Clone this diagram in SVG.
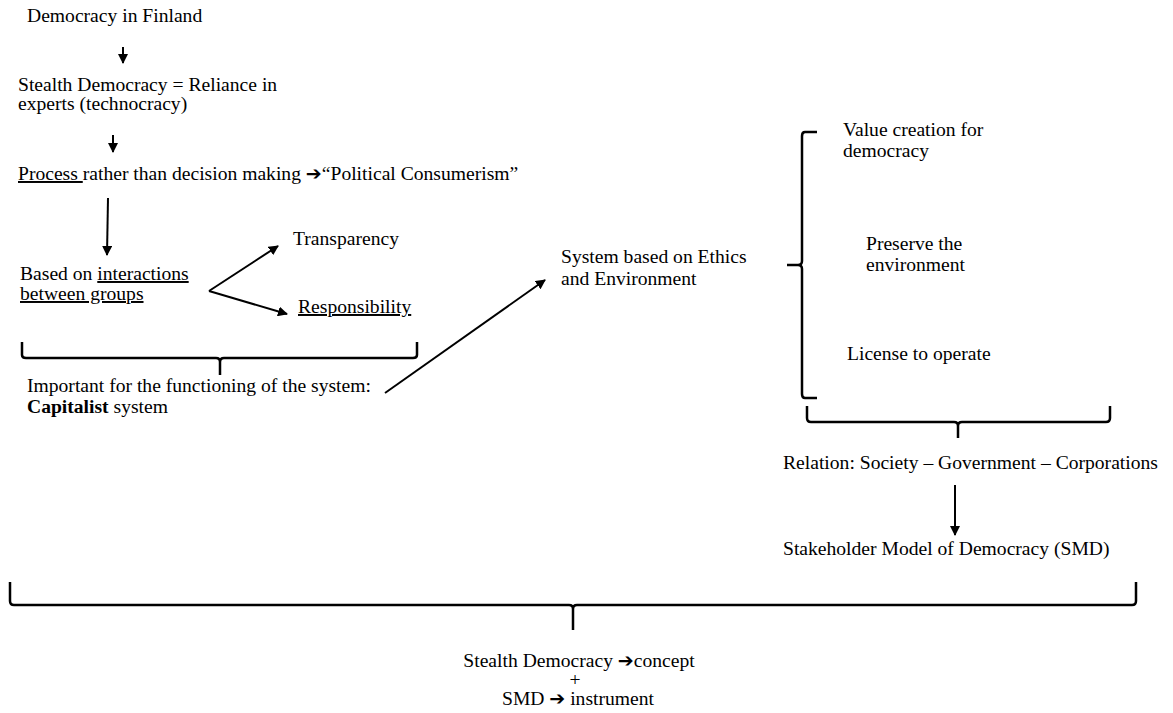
<svg xmlns="http://www.w3.org/2000/svg" width="1173" height="713" viewBox="0 0 1173 713" font-family="'Liberation Serif', 'Times New Roman', serif">
<style>
text{font-family:'Liberation Serif','Times New Roman',serif;font-size:19.6px;fill:#000}
.u{text-decoration:underline}
.ar{font-family:'DejaVu Sans',sans-serif;font-weight:bold;font-size:19px}
.ln{stroke:#000;stroke-width:2;fill:none}
.br{stroke:#000;stroke-width:2.5;fill:none;stroke-linejoin:round}
</style>
<defs>
<marker id="ah" viewBox="0 0 10 10" refX="9" refY="5" markerWidth="5" markerHeight="5" orient="auto" markerUnits="strokeWidth">
<path d="M0,0 L10,5 L0,10 Z" fill="#000"/>
</marker>
</defs>
<rect width="1173" height="713" fill="#fff"/>
<g id="n-finland"><text x="27" y="22">Democracy in Finland</text></g>
<g id="n-stealth"><text x="18" y="91">Stealth Democracy = Reliance in</text><text x="18" y="110">experts (technocracy)</text></g>
<g id="n-process"><text x="18" y="180"><tspan class="u">Process </tspan>rather than decision making <tspan class="ar">➔</tspan>“Political Consumerism”</text></g>
<g id="n-based"><text x="20" y="280">Based on <tspan class="u">interactions</tspan></text><text x="20" y="300" class="u">between groups</text></g>
<g id="n-transparency"><text x="293" y="245">Transparency</text></g>
<g id="n-responsibility"><text x="298" y="313" class="u">Responsibility</text></g>
<g id="n-important"><text x="27" y="392">Important for the functioning of the system:</text><text x="27" y="413"><tspan font-weight="bold">Capitalist</tspan> system</text></g>
<g id="n-system"><text x="561" y="263">System based on Ethics</text><text x="561" y="285">and Environment</text></g>
<g id="n-value"><text x="843" y="136">Value creation for</text><text x="843" y="157">democracy</text></g>
<g id="n-preserve"><text x="866" y="250">Preserve the</text><text x="866" y="271">environment</text></g>
<g id="n-license"><text x="847" y="360">License to operate</text></g>
<g id="n-relation"><text x="783" y="469">Relation: Society – Government – Corporations</text></g>
<g id="n-smd"><text x="783" y="555">Stakeholder Model of Democracy (SMD)</text></g>
<g id="n-final" text-anchor="middle"><text x="579" y="667">Stealth Democracy <tspan class="ar">➔</tspan>concept</text><text x="575" y="686">+</text><text x="578" y="705">SMD <tspan class="ar">➔</tspan> instrument</text></g>
<g id="connectors">
<line class="ln" x1="123" y1="47" x2="123" y2="63" marker-end="url(#ah)"/>
<line class="ln" x1="113" y1="135" x2="113" y2="152" marker-end="url(#ah)"/>
<line class="ln" x1="108" y1="198" x2="107" y2="255" marker-end="url(#ah)"/>
<line class="ln" x1="209" y1="291" x2="278" y2="246" marker-end="url(#ah)"/>
<line class="ln" x1="209" y1="291" x2="287" y2="314" marker-end="url(#ah)"/>
<line class="ln" x1="385" y1="393" x2="545" y2="280" marker-end="url(#ah)"/>
<line class="ln" x1="955" y1="485" x2="955" y2="535" marker-end="url(#ah)"/>
<path class="br" d="M22,342 L22,355 Q22,358 26,358 L216,358 Q220,358 220,362 L220,375 M220,362 Q220,358 224,358 L413,358 Q417,358 417,355 L417,342"/>
<path class="br" d="M817,132 L805,132 Q802,132 802,136 L802,261 Q802,265 798,265 L787,265 M798,265 Q802,265 802,269 L802,394 Q802,398 805,398 L817,398"/>
<path class="br" d="M807,406 L807,418 Q807,422 811,422 L954,422 Q958,422 958,426 L958,438 M958,426 Q958,422 962,422 L1106,422 Q1110,422 1110,418 L1110,406"/>
<path class="br" d="M10,582 L10,601 Q10,605 14,605 L569,605 Q573,605 573,609 L573,630 M573,609 Q573,605 577,605 L1132,605 Q1136,605 1136,601 L1136,582"/>
</g>
</svg>
